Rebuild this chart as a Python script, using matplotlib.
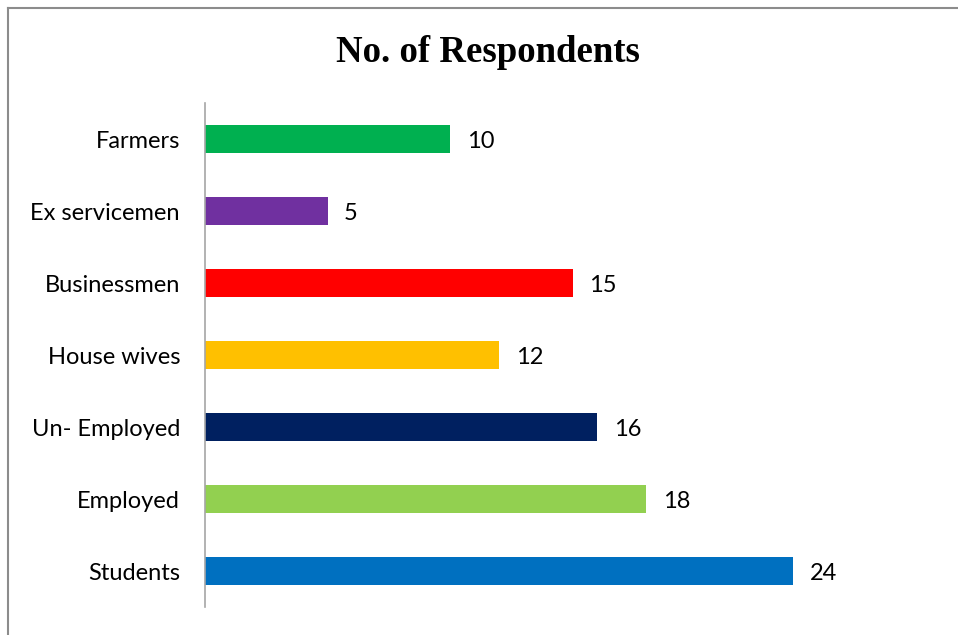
import matplotlib
matplotlib.use("Agg")
import matplotlib.pyplot as plt
from matplotlib.lines import Line2D

# Respondent groups, listed bottom to top
categories = ["Students", "Employed", "Un- Employed", "House wives",
              "Businessmen", "Ex servicemen", "Farmers"]
counts = [24, 18, 16, 12, 15, 5, 10]
colors = ["#0070C0", "#92D050", "#002060", "#FFC000",
          "#FF0000", "#7030A0", "#00B050"]

W, H = 958, 635
fig = plt.figure(figsize=(W / 100, H / 100), dpi=100)
fig.patch.set_facecolor("white")

# Frame around the chart area (top and left edges)
fig.add_artist(Line2D([8 / W, 8 / W], [0, 1 - 8 / H], transform=fig.transFigure,
                      color="#8c8c8c", lw=1.5))
fig.add_artist(Line2D([8 / W, 1], [1 - 8 / H, 1 - 8 / H], transform=fig.transFigure,
                      color="#8c8c8c", lw=1.5))

ax = fig.add_axes([205 / W, (H - 607) / H, (940 - 205) / W, (607 - 103) / H])
ypos = list(range(len(categories)))
bars = ax.barh(ypos, counts, height=0.4, color=colors)

ax.set_xlim(0, 30)
ax.set_ylim(-0.5, len(categories) - 0.5)
ax.set_yticks(ypos)
ax.set_yticklabels(categories, fontsize=17, family="Lato")
ax.tick_params(axis="y", length=0, pad=18)
ax.set_xticks([])
for side in ("top", "right", "bottom"):
    ax.spines[side].set_visible(False)
ax.spines["left"].set_color("#a6a6a6")
ax.spines["left"].set_linewidth(1.2)

for y, v in zip(ypos, counts):
    ax.annotate(str(v), (v, y), xytext=(12, -1.5), textcoords="offset points",
                va="center", ha="left", fontsize=17, family="Lato")

fig.text((334 + 641) / 2 / W, 1 - 53 / H, "No. of Respondents",
         ha="center", va="center", fontsize=26.5, fontweight="bold",
         family="Liberation Serif")

fig.savefig("out.png", dpi=100)
